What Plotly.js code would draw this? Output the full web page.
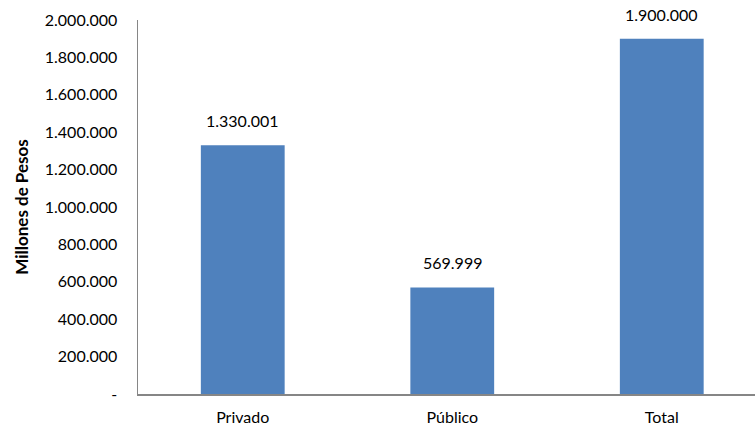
<!DOCTYPE html>
<html>
<head>
<meta charset="utf-8">
<script src="https://cdn.plot.ly/plotly-3.0.1.min.js"></script>
<style>html,body{margin:0;padding:0;background:#fff;}#chart{width:755px;height:428px;}</style>
</head>
<body>
<div id="chart"></div>
<script>
var categories = ["Privado", "Público", "Total"];
var values = [1330001, 569999, 1900000];
var yTickVals = [0, 200000, 400000, 600000, 800000, 1000000, 1200000, 1400000, 1600000, 1800000, 2000000];
var yTickText = ["-", "200.000", "400.000", "600.000", "800.000", "1.000.000", "1.200.000", "1.400.000", "1.600.000", "1.800.000", "2.000.000"];

function fmt(v) {
  return String(v).replace(/\B(?=(\d{3})+(?!\d))/g, ".");
}

var font = "Lato, 'Open Sans', sans-serif";

var trace = {
  type: "bar",
  x: categories,
  y: values,
  marker: {color: "#4F81BD", line: {color: "#4F81BD", width: 0}},
  width: 0.4,
  hoverinfo: "none"
};

var annotations = categories.map(function (c, i) {
  return {
    x: c, y: values[i], xref: "x", yref: "y",
    text: fmt(values[i]), showarrow: false,
    yanchor: "bottom", yshift: 13,
    font: {family: font, size: 16, color: "#000"}
  };
});

var layout = {
  width: 755, height: 428,
  margin: {l: 138, r: 0, t: 20, b: 34},
  paper_bgcolor: "#fff", plot_bgcolor: "#fff",
  showlegend: false,
  font: {family: font, size: 16, color: "#000"},
  xaxis: {
    range: [-0.5, 2.445],
    showline: true, linecolor: "#868686", linewidth: 1.5,
    showgrid: false, zeroline: false, ticks: "",
    ticklabelstandoff: 8,
    tickfont: {family: font, size: 16, color: "#000"}
  },
  yaxis: {
    range: [0, 2000000],
    tickvals: yTickVals, ticktext: yTickText,
    showline: true, linecolor: "#868686", linewidth: 1.5,
    showgrid: false, zeroline: false, ticks: "",
    ticklabelstandoff: 16,
    tickfont: {family: font, size: 16, color: "#000"},
    title: {text: "<b>Millones de Pesos</b>", standoff: 12, font: {family: font, size: 17, color: "#000"}}
  },
  annotations: annotations
};

Plotly.newPlot("chart", [trace], layout, {displayModeBar: false, staticPlot: true});
</script>
</body>
</html>
